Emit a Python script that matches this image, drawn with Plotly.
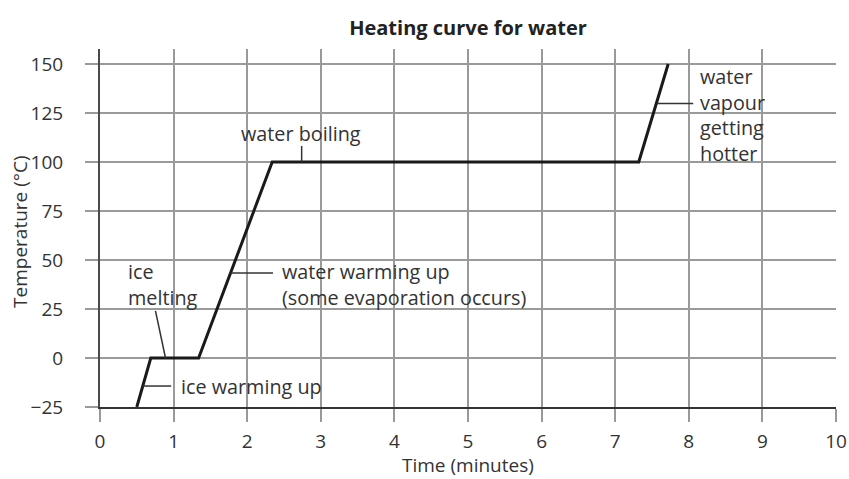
import plotly.graph_objects as go

# ---- data ----
time_min = [0.5, 0.69, 1.34, 2.34, 7.32, 7.72]
temp_c = [-25, 0, 0, 100, 100, 150]

x_ticks = list(range(0, 11))
y_ticks = [-25, 0, 25, 50, 75, 100, 125, 150]
y_tick_labels = ["−25", "0", "25", "50", "75", "100", "125", "150"]

label_texts = ["ice<br>melting", "ice warming up",
               "water warming up<br>(some evaporation occurs)",
               "water boiling", "water<br>vapour<br>getting<br>hotter"]
label_x = [0.356, 1.08, 2.44, 2.73, 8.13]
label_y = [37.7, -14.6, 37.5, 114.3, 124.0]
label_xanchor = ["left", "left", "left", "center", "left"]

# leader lines (x0, y0, x1, y1)
leaders = [(0.754, 24.0, 0.89, 0.0),
           (0.58, -14.3, 0.967, -14.3),
           (1.77, 43.4, 2.35, 43.4),
           (2.74, 108.2, 2.74, 100.0),
           (7.57, 129.9, 8.06, 129.9)]

FONT = "Open Sans"
TXT = "#333333"
GRID = "#9a9a9a"

fig = go.Figure()
fig.add_trace(go.Scatter(x=time_min, y=temp_c, mode="lines",
                         line=dict(color="#1a1a1a", width=3),
                         hoverinfo="skip", showlegend=False))

for (x0, y0, x1, y1) in leaders:
    fig.add_shape(type="line", x0=x0, y0=y0, x1=x1, y1=y1, xref="x", yref="y",
                  line=dict(color="#333333", width=1.5), layer="above")

for t, x, y, xa in zip(label_texts, label_x, label_y, label_xanchor):
    fig.add_annotation(text=t, x=x, y=y, xref="x", yref="y", xanchor=xa,
                       yanchor="middle", align="left", showarrow=False,
                       font=dict(family=FONT, size=19.8, color=TXT))

# axis titles
fig.add_annotation(text="Time (minutes)", x=0.5, y=0, xref="paper", yref="paper",
                   xanchor="center", yanchor="middle", yshift=-58, showarrow=False,
                   font=dict(family=FONT, size=19, color=TXT))
fig.add_annotation(text="Temperature (°C)", x=0, y=0.489, xref="paper", yref="paper",
                   xanchor="center", yanchor="middle", xshift=-80, textangle=-90,
                   showarrow=False, font=dict(family=FONT, size=19, color=TXT))

fig.update_layout(
    width=849, height=479,
    margin=dict(l=100, r=13, t=49, b=72),
    paper_bgcolor="white", plot_bgcolor="white",
    font=dict(family=FONT, size=19, color=TXT),
    title=dict(text="<b>Heating curve for water</b>", x=(100 + 736 / 2) / 849,
               xanchor="center", y=1 - 28 / 479, yanchor="middle", yref="container",
               font=dict(family=FONT, size=20, color="#222222")),
    showlegend=False,
)

fig.update_xaxes(range=[0, 10], tickvals=x_ticks, ticks="outside", ticklen=13,
                 tickwidth=1.8, tickcolor=GRID, showgrid=True, gridcolor=GRID,
                 gridwidth=1.8, showline=True, linecolor="#333333", linewidth=2,
                 zeroline=False, automargin=False, ticklabelstandoff=3,
                 tickfont=dict(size=19))
fig.update_yaxes(range=[-25, 157.65], tickvals=y_ticks, ticktext=y_tick_labels,
                 ticks="outside", ticklen=13, tickwidth=1.8, tickcolor=GRID,
                 showgrid=True, gridcolor=GRID, gridwidth=1.8, showline=True,
                 linecolor="#4a4a4a", linewidth=2, zeroline=False,
                 automargin=False, ticklabelstandoff=18,
                 tickfont=dict(size=19))

fig.write_html("out.html", config={"displayModeBar": False},
               post_script="document.body.style.margin='0';")
